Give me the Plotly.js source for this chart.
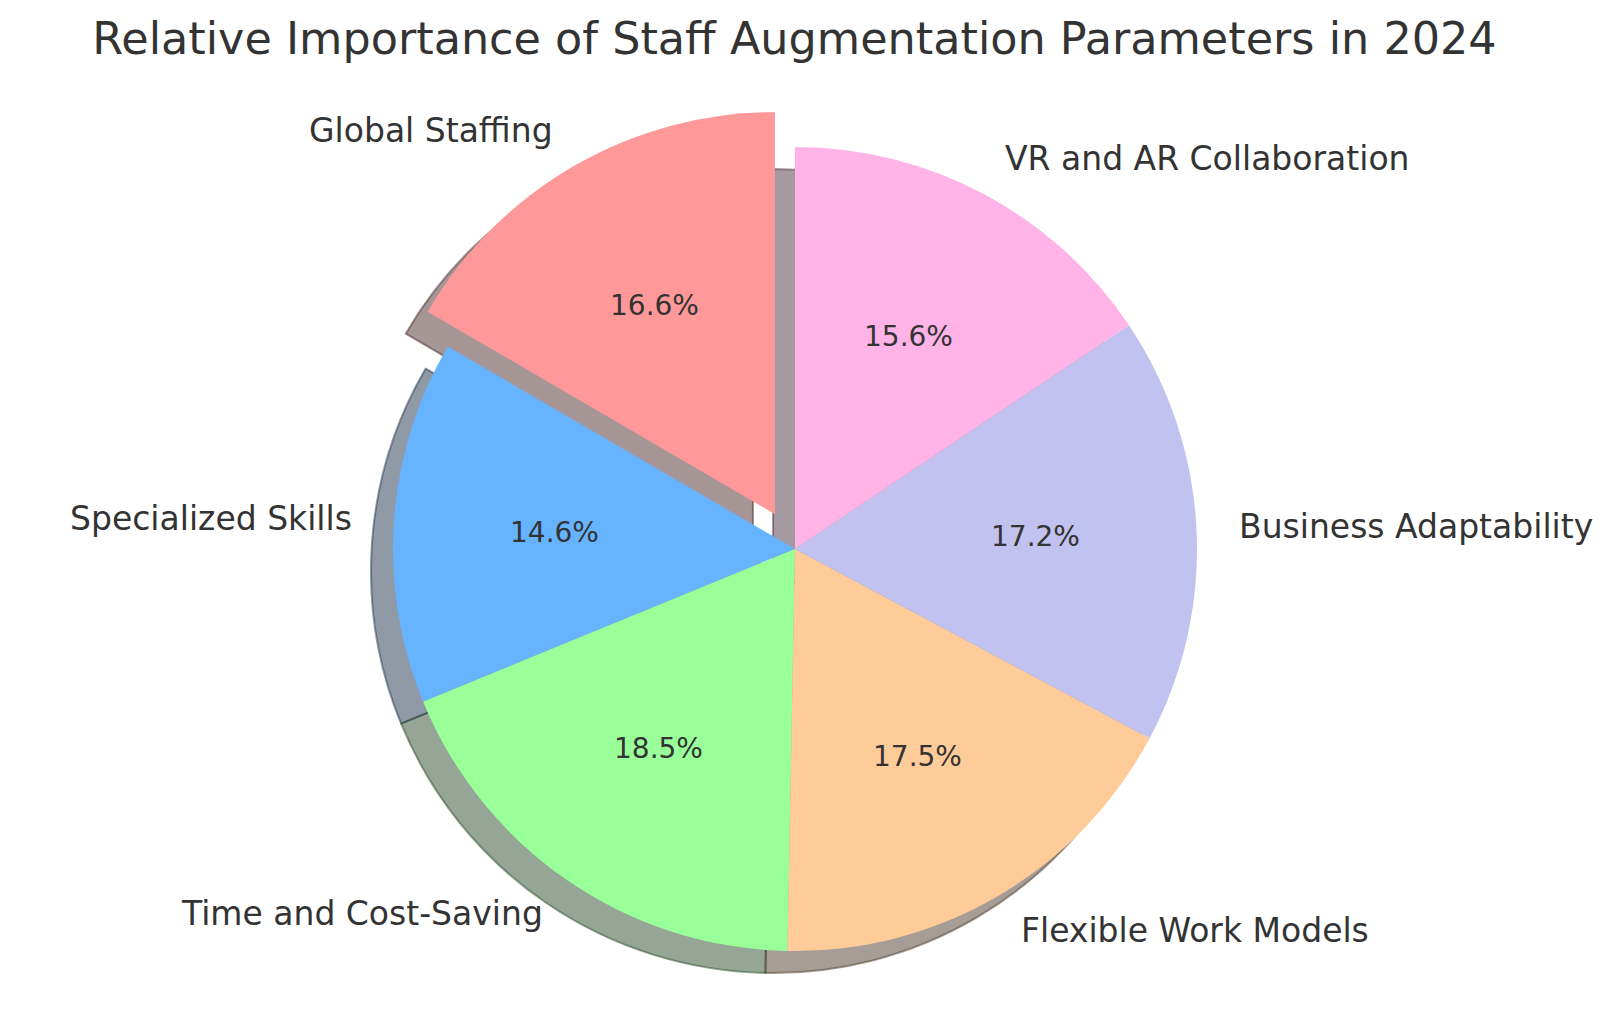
<!DOCTYPE html>
<html>
<head>
<meta charset="utf-8">
<script src="https://cdn.plot.ly/plotly-3.0.1.min.js"></script>
<style>
  html, body { margin: 0; padding: 0; background: #ffffff; }
  #chart { width: 1614px; height: 1014px; }
</style>
</head>
<body>
<div id="chart"></div>
<script>
// ---- data ----
const categories = [
  'Global Staffing',
  'Specialized Skills',
  'Time and Cost-Saving',
  'Flexible Work Models',
  'Business Adaptability',
  'VR and AR Collaboration'
];
const shares = [16.6, 14.6, 18.5, 17.5, 17.2, 15.6];
const explode = [0.1, 0, 0, 0, 0, 0];
const sliceColors = ['#ff9999', '#66b3ff', '#99ff99', '#ffcc99', '#c2c2f0', '#ffb3e6'];
const chartTitle = 'Relative Importance of Staff Augmentation Parameters in 2024';

// ---- layout constants (pixels) ----
const W = 1614, H = 1014;
const CX = 795, CY = 549, R = 402;       // pie centre and radius
const SHADOW_DX = -22, SHADOW_DY = 22;  // shadow offset
const FONT = 'DejaVu Sans, Verdana, sans-serif';
const TEXT_COLOR = '#333333';

const total = shares.reduce((a, b) => a + b, 0);
const maxPull = Math.max(...explode);
const half = R * (1 + maxPull);
// Plotly's counterclockwise mode puts the first slice clockwise of 12 o'clock;
// rotate so the first slice starts at 12 o'clock and runs counterclockwise (matplotlib startangle=90)
const startRotation = -360 * shares[0] / total;

function domainFor(cx, cy) {
  return {
    x: [(cx - half) / W, (cx + half) / W],
    y: [1 - (cy + half) / H, 1 - (cy - half) / H]
  };
}

function shadowColor(hex, a) {
  const r = parseInt(hex.slice(1, 3), 16), g = parseInt(hex.slice(3, 5), 16), b = parseInt(hex.slice(5, 7), 16);
  return 'rgba(' + Math.round(r * 0.3) + ',' + Math.round(g * 0.3) + ',' + Math.round(b * 0.3) + ',' + a + ')';
}

const shadowTrace = {
  type: 'pie',
  labels: categories,
  values: shares,
  sort: false,
  direction: 'counterclockwise',
  rotation: startRotation,
  pull: explode,
  textinfo: 'none',
  hoverinfo: 'skip',
  marker: {
    colors: sliceColors.map(c => shadowColor(c, 0.5)),
    line: { color: sliceColors.map(c => shadowColor(c, 0.5)), width: 2 }
  },
  domain: domainFor(CX + SHADOW_DX, CY + SHADOW_DY),
  showlegend: false
};

const mainTrace = {
  type: 'pie',
  labels: categories,
  values: shares,
  sort: false,
  direction: 'counterclockwise',
  rotation: startRotation,
  pull: explode,
  textinfo: 'none',
  hoverinfo: 'label+percent',
  marker: { colors: sliceColors, line: { width: 0 } },
  domain: domainFor(CX, CY),
  showlegend: false
};

// ---- labels placed like matplotlib (labeldistance 1.1, pctdistance 0.6) ----
const annotations = [];
let cum = 0;
shares.forEach((v, i) => {
  const mid = (90 + 360 * (cum + v / 2) / total) * Math.PI / 180;
  cum += v;
  const ox = CX + explode[i] * R * Math.cos(mid);
  const oy = CY - explode[i] * R * Math.sin(mid);
  const lx = ox + 1.1 * R * Math.cos(mid);
  const ly = oy - 1.1 * R * Math.sin(mid);
  annotations.push({
    xref: 'paper', yref: 'paper',
    x: lx / W, y: 1 - ly / H,
    xanchor: Math.cos(mid) > 0 ? 'left' : 'right',
    yanchor: 'middle',
    text: categories[i],
    showarrow: false,
    font: { family: FONT, size: 33, color: TEXT_COLOR }
  });
  const px = ox + 0.6 * R * Math.cos(mid);
  const py = oy - 0.6 * R * Math.sin(mid);
  annotations.push({
    xref: 'paper', yref: 'paper',
    x: px / W, y: 1 - py / H,
    xanchor: 'center', yanchor: 'middle',
    text: (100 * v / total).toFixed(1) + '%',
    showarrow: false,
    font: { family: FONT, size: 28, color: TEXT_COLOR }
  });
});

const layout = {
  width: W, height: H,
  margin: { l: 0, r: 0, t: 0, b: 0 },
  paper_bgcolor: '#ffffff',
  plot_bgcolor: '#ffffff',
  title: {
    text: chartTitle,
    x: 794.5 / W, xanchor: 'center',
    y: 1 - 38 / H, yanchor: 'middle', yref: 'container',
    font: { family: FONT, size: 44.5, color: TEXT_COLOR }
  },
  annotations: annotations,
  showlegend: false
};

Plotly.newPlot('chart', [shadowTrace, mainTrace], layout, { displayModeBar: false, staticPlot: true });
</script>
</body>
</html>
